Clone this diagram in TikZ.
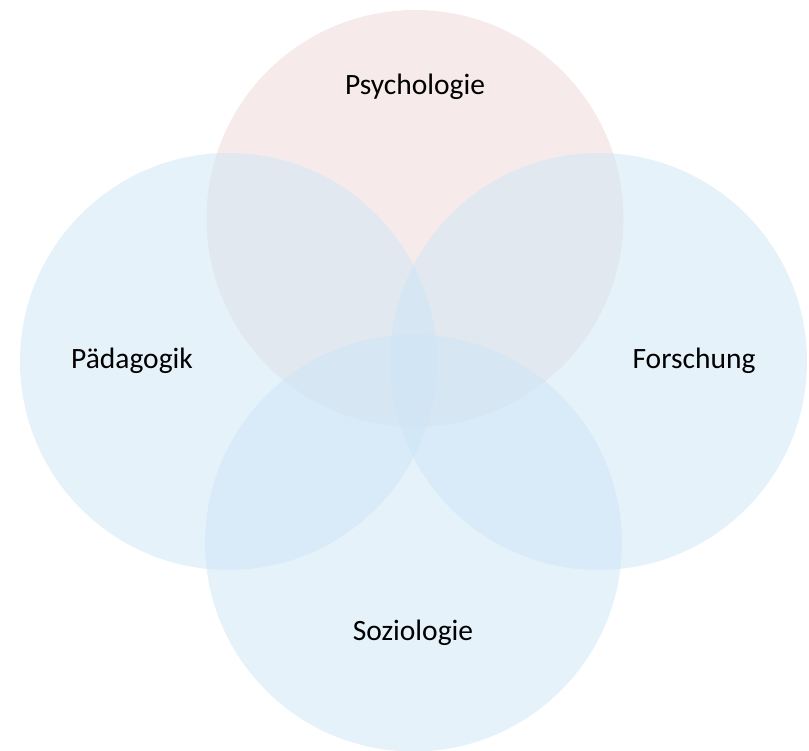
\documentclass[tikz,border=0pt]{standalone}
\usepackage{fontspec}
\setmainfont{Carlito}
\usetikzlibrary{positioning}
\definecolor{psyrose}{HTML}{EDD6D6}
\definecolor{fieldblue}{HTML}{CDE5F6}

\begin{document}
\begin{tikzpicture}[x=1pt,y=-1pt,
    field/.style={circle,minimum size=417pt,inner sep=0pt,draw=none,fill opacity=0.5},
    fieldname/.style={anchor=base,inner sep=0pt,font=\fontsize{29.5}{35}\selectfont}]
  \useasboundingbox (0,0) rectangle (809,751);

  % Circles
  \node[field,fill=psyrose]   (psy) at (415,218.5) {};
  \node[field,fill=fieldblue] (pad) at (228.5,361.5) {};
  \node[field,fill=fieldblue] (for) at (598.5,361.5) {};
  \node[field,fill=fieldblue] (soz) at (413.5,543) {};

  % Labels
  \node[fieldname] (psylabel) at (415,95)  {Psychologie};
  \node[fieldname] (padlabel) at (132,369) {Pädagogik};
  \node[fieldname] (forlabel) at (694,369) {Forschung};
  \node[fieldname] (sozlabel) at (413,640) {Soziologie};
\end{tikzpicture}
\end{document}
